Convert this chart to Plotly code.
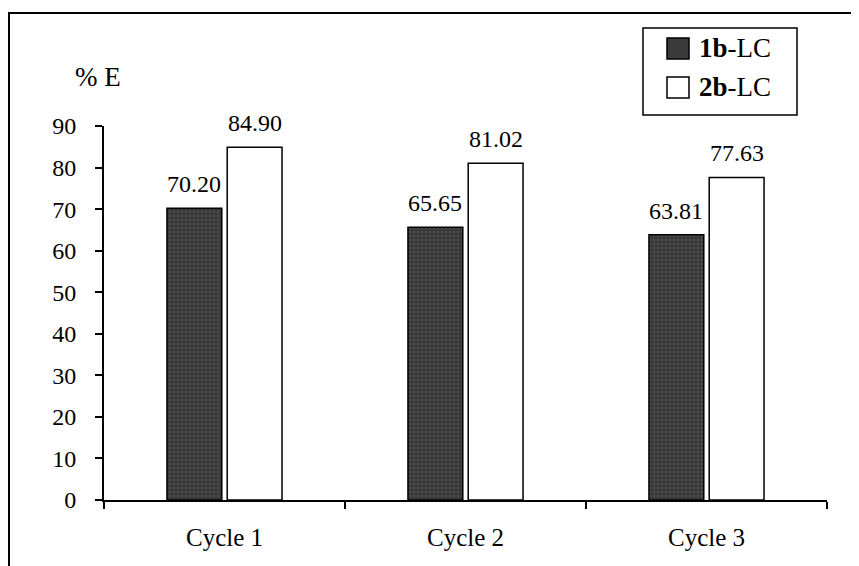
import plotly.graph_objects as go

categories = ["Cycle 1", "Cycle 2", "Cycle 3"]
series_names = ["1b-LC", "2b-LC"]
values_1b = [70.20, 65.65, 63.81]
values_2b = [84.90, 81.02, 77.63]
y_ticks = [0, 10, 20, 30, 40, 50, 60, 70, 80, 90]

FONT = "Liberation Serif, Times New Roman, serif"
OFF = 8  # browser default body margin
W, H = 859 - OFF, 566 - OFF
# plot area in reference pixel coords: x 104..827, y 126..500
ML, MR = 104 - OFF, W - (827 - OFF)
MT, MB = 126 - OFF, H - (500 - OFF)
PW, PH = W - ML - MR, H - MT - MB

BARGAP, GROUPGAP = 0.5, 0.09
SLOT = (1 - BARGAP) / 2

def px_x(px):
    return (px - OFF - ML) / PW

def px_y(py):
    return (H - MB - (py - OFF)) / PH

fig = go.Figure()
fig.add_trace(go.Bar(
    x=categories, y=values_1b, name=series_names[0],
    marker=dict(color="#3a3a3a", line=dict(color="black", width=1.5),
                pattern=dict(shape=".", fgcolor="#707070", size=4, solidity=0.2, fillmode="overlay")),
))
fig.add_trace(go.Bar(
    x=categories, y=values_2b, name=series_names[1],
    marker=dict(color="white", line=dict(color="black", width=1.5)),
))

shapes = []
annotations = []
# value labels above bars
for sign, vals in ((-1, values_1b), (1, values_2b)):
    for i, v in enumerate(vals):
        annotations.append(dict(x=i + sign * SLOT / 2, y=v, xref="x", yref="y",
                                text=f"{v:.2f}", showarrow=False,
                                xanchor="center", yanchor="bottom", yshift=9,
                                font=dict(family=FONT, size=24, color="black")))
# outer frame (extends past the right and bottom edges, as in the scan)
shapes.append(dict(type="rect", xref="paper", yref="paper",
                   x0=px_x(9), x1=px_x(880), y0=px_y(590), y1=px_y(13),
                   line=dict(color="black", width=2), fillcolor="rgba(0,0,0,0)", layer="below"))
# custom legend
shapes.append(dict(type="rect", xref="paper", yref="paper",
                   x0=px_x(643), x1=px_x(797), y0=px_y(115), y1=px_y(28),
                   line=dict(color="black", width=1.5), fillcolor="white"))
legend_rows = [(38, 59, "#3a3a3a", "<b>1b</b>-LC"), (77, 98, "white", "<b>2b</b>-LC")]
for top, bot, col, label in legend_rows:
    shapes.append(dict(type="rect", xref="paper", yref="paper",
                       x0=px_x(667), x1=px_x(689), y0=px_y(bot), y1=px_y(top),
                       line=dict(color="black", width=1.5), fillcolor=col))
    annotations.append(dict(x=px_x(697), y=px_y((top + bot) / 2), xref="paper", yref="paper",
                            text=label, showarrow=False, xanchor="left", yanchor="middle",
                            font=dict(family=FONT, size=27, color="black")))
annotations.append(dict(x=px_x(73), y=px_y(77), xref="paper", yref="paper",
                        text="% E", showarrow=False, xanchor="left", yanchor="middle",
                        font=dict(family=FONT, size=27, color="black")))

fig.update_layout(
    width=W, height=H,
    margin=dict(l=ML, r=MR, t=MT, b=MB, autoexpand=False),
    paper_bgcolor="white", plot_bgcolor="white",
    barmode="group", bargap=BARGAP, bargroupgap=GROUPGAP,
    showlegend=False,
    font=dict(family=FONT, size=24, color="black"),
    shapes=shapes, annotations=annotations,
)
fig.update_xaxes(
    showline=True, linecolor="black", linewidth=2,
    ticks="outside", ticklen=7, tickwidth=2, tickcolor="black",
    tickson="boundaries", showgrid=False,
    tickfont=dict(family=FONT, size=25, color="black"),
    ticklabelstandoff=14,
)
fig.update_yaxes(
    range=[0, 90], tickvals=y_ticks,
    showline=True, linecolor="black", linewidth=2,
    ticks="outside", ticklen=7, tickwidth=2, tickcolor="black",
    showgrid=False, zeroline=False,
    tickfont=dict(family=FONT, size=24, color="black"),
    ticklabelstandoff=14,
)

fig.write_html("out.html")
